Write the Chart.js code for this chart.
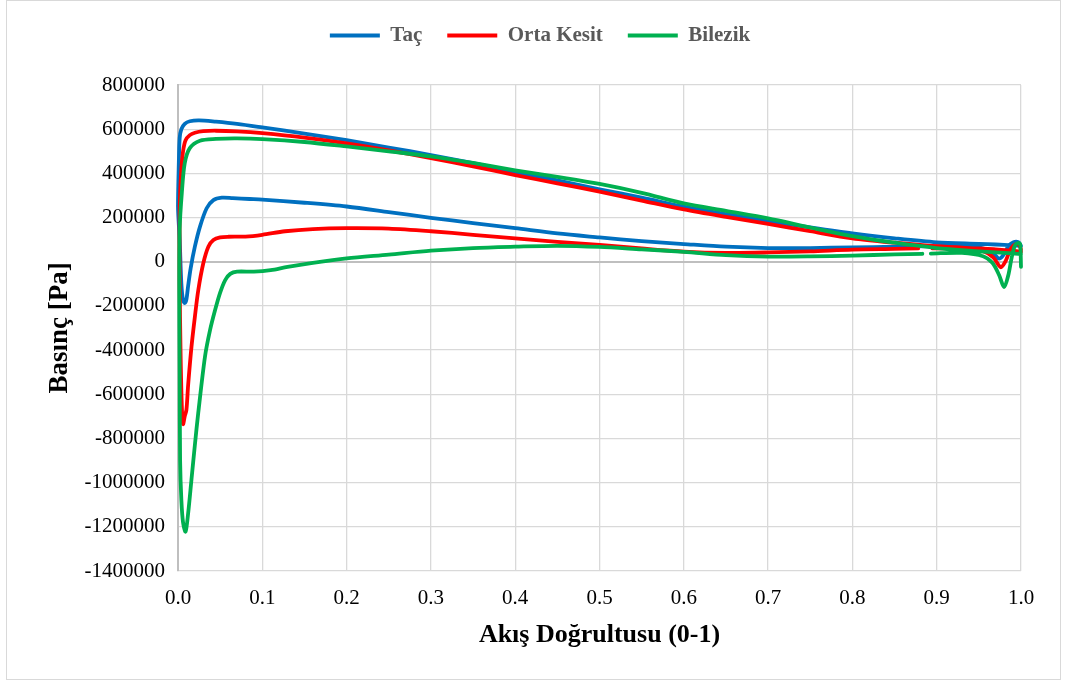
<!DOCTYPE html>
<html>
<head>
<meta charset="utf-8">
<script src="https://cdn.jsdelivr.net/npm/chart.js@4.4.1/dist/chart.umd.min.js"></script>
<style>
  html, body { margin: 0; padding: 0; background: #ffffff; }
  #wrap { position: relative; width: 1066px; height: 684px; }
  #frame { position: absolute; left: 6px; top: 0; width: 1053px; height: 678px;
           border: 1px solid #d9d9d9; pointer-events: none; }
  canvas { display: block; }
</style>
</head>
<body>
<div id="wrap">
  <canvas id="chart" width="1066" height="684"></canvas>
  <div id="frame"></div>
</div>
<script>
// Pressure distribution along the flow direction (0 = leading edge, 1 = trailing edge).
// Each profile is a closed loop: upper branch from trailing edge to leading edge,
// then lower branch back to the trailing edge. null marks a break in the line.

const seriesNames = ['Taç', 'Orta Kesit', 'Bilezik'];

const tacX = [
  1.000, 0.990, 0.970, 0.950, 0.900, 0.850, 0.800, 0.750, 0.700, 0.650,
  0.600, 0.550, 0.500, 0.450, 0.400, 0.350, 0.300, 0.250, 0.200, 0.150,
  0.100, 0.070, 0.045, 0.025, 0.014, 0.008, 0.004, 0.002, 0.001, 0.000,
  0.002, 0.004, 0.006, 0.008, 0.010, 0.012, 0.015, 0.020, 0.026, 0.034,
  0.042, 0.052, 0.065, 0.085, 0.100, 0.150, 0.200, 0.250, 0.300, 0.350,
  0.400, 0.450, 0.500, 0.550, 0.600, 0.650, 0.700, 0.750, 0.800, 0.850,
  0.900, 0.940, 0.960, 0.968, 0.974, 0.979, 0.985, 0.991, 0.997, 1.000
];
const tacY = [
  72000, 74000, 78000, 81000, 88000, 106000, 128000, 155000, 184000, 215000,
  249000, 290000, 328000, 368000, 406000, 446000, 483000, 517000, 550000, 580000,
  608000, 624000, 634000, 640000, 636000, 624000, 600000, 560000, 450000, 250000,
  100000, -100000, -175000, -187000, -170000, -110000, -30000, 68000, 158000, 242000,
  279000, 290000, 288000, 284000, 281000, 267000, 250000, 225000, 199000, 175000,
  152000, 128000, 110000, 93000, 80000, 68000, 62000, 62000, 65000, 68000,
  71000, 70000, 55000, 35000, 14000, 30000, 70000, 88000, 88000, 72000
];

const ortaX = [
  1.000, 0.990, 0.970, 0.950, 0.900, 0.850, 0.800, 0.750, 0.700, 0.650,
  0.600, 0.550, 0.500, 0.450, 0.400, 0.350, 0.300, 0.250, 0.200, 0.150,
  0.100, 0.070, 0.045, 0.030, 0.020, 0.014, 0.009, 0.006, 0.004, 0.002,
  0.002, 0.003, 0.0045, 0.006, 0.008, 0.010, 0.012, 0.016, 0.020, 0.024,
  0.030, 0.036, 0.042, 0.050, 0.060, 0.080, 0.100, 0.127, 0.160, 0.200,
  0.250, 0.300, 0.350, 0.400, 0.450, 0.500, 0.550, 0.600, 0.650, 0.700,
  0.750, 0.800, 0.850, 0.878, 0.886, 0.895, 0.930, 0.955, 0.967, 0.976,
  0.982, 0.988, 0.994, 0.998, 1.000
];
const ortaY = [
  45000, 50000, 56000, 60000, 70000, 86000, 106000, 138000, 171000, 203000,
  237000, 277000, 317000, 355000, 392000, 432000, 469000, 504000, 536000, 562000,
  582000, 590000, 593000, 591000, 584000, 573000, 550000, 500000, 420000, 250000,
  -100000, -400000, -650000, -735000, -700000, -670000, -560000, -385000, -250000, -130000,
  -7000, 68000, 98000, 110000, 113000, 114000, 122000, 138000, 148000, 152000,
  150000, 138000, 122000, 106000, 90000, 76000, 60000, 46000, 40000, 42000,
  47000, 55000, 58000, 60000, null, 60000, 60000, 48000, 20000, -25000,
  5000, 60000, 80000, 75000, 55000
];

const bilezikX = [
  1.000, 0.990, 0.970, 0.950, 0.900, 0.850, 0.800, 0.750, 0.700, 0.650,
  0.600, 0.550, 0.500, 0.450, 0.400, 0.350, 0.300, 0.250, 0.200, 0.150,
  0.100, 0.070, 0.045, 0.026, 0.014, 0.008, 0.0045, 0.002,
  0.0015, 0.002, 0.0025, 0.004, 0.006, 0.009, 0.012, 0.016, 0.020, 0.024,
  0.032, 0.038, 0.044, 0.050, 0.056, 0.062, 0.070, 0.090, 0.110, 0.130,
  0.160, 0.200, 0.250, 0.300, 0.350, 0.400, 0.450, 0.500, 0.550, 0.600,
  0.650, 0.700, 0.750, 0.800, 0.850, 0.883, 0.888, 0.893, 0.930, 0.955,
  0.966, 0.974, 0.980, 0.985, 0.989, 0.993, 0.997, 0.999, 1.000
];
const bilezikY = [
  35000, 38000, 42000, 47000, 62000, 86000, 116000, 155000, 196000, 230000,
  264000, 312000, 352000, 384000, 414000, 447000, 477000, 500000, 522000, 542000,
  555000, 558000, 556000, 548000, 514000, 446000, 310000, 150000,
  -100000, -500000, -900000, -1080000, -1180000, -1222000, -1140000, -985000, -830000, -685000,
  -430000, -310000, -219000, -140000, -83000, -55000, -45000, -45000, -38000, -23000,
  -5000, 15000, 32000, 50000, 62000, 68000, 72000, 67000, 56000, 45000,
  30000, 23000, 24000, 28000, 33000, 36000, null, 37000, 40000, 25000,
  -5000, -60000, -115000, -60000, 20000, 75000, 85000, 80000, -23000
];

const xTicks = [0, 0.1, 0.2, 0.3, 0.4, 0.5, 0.6, 0.7, 0.8, 0.9, 1.0];
const yTicks = [-1400000, -1200000, -1000000, -800000, -600000, -400000, -200000,
                0, 200000, 400000, 600000, 800000];

const colors = ['#0070c0', '#ff0000', '#00b050'];
const FONT = "'Liberation Serif', 'Times New Roman', serif";

function toPoints(xs, ys) {
  return xs.map((x, i) => ({ x: x, y: ys[i] }));
}

const seriesData = [toPoints(tacX, tacY), toPoints(ortaX, ortaY), toPoints(bilezikX, bilezikY)];

// Fixed plot geometry: legend band on top, axis bands left and bottom.
const LEGEND_H = 85;
const Y_AXIS_W = 178;
const X_AXIS_H = 113;
const LEGEND_CENTER = 540;

const layoutTweaks = {
  id: 'layoutTweaks',
  beforeLayout(chart) {
    const lg = chart.legend;
    if (lg && !lg._fixedHeight) {
      const baseFit = Object.getPrototypeOf(lg).fit;
      lg.fit = function () {
        baseFit.call(this);
        this.height = LEGEND_H;
      };
      lg._fixedHeight = true;
    }
  },
  afterLayout(chart) {
    const lg = chart.legend;
    if (!lg) return;
    const shift = LEGEND_CENTER - (lg.left + lg.right) / 2;
    lg.left += shift;
    lg.right += shift;
  }
};

const datasets = seriesNames.map((name, i) => ({
  label: name,
  data: seriesData[i],
  borderColor: colors[i],
  backgroundColor: colors[i],
  borderWidth: 3.8,
  pointRadius: 0,
  pointHoverRadius: 0,
  showLine: true,
  fill: false,
  tension: 0.3,
  spanGaps: false,
  borderJoinStyle: 'round',
  borderCapStyle: 'round',
  clip: 8,
  order: seriesNames.length - i
}));

new Chart(document.getElementById('chart'), {
  type: 'scatter',
  data: { datasets: datasets },
  plugins: [layoutTweaks],
  options: {
    responsive: false,
    animation: false,
    devicePixelRatio: 1,
    layout: { padding: { left: 0, right: 45, top: 0, bottom: 0 } },
    plugins: {
      tooltip: { enabled: false },
      legend: {
        position: 'top',
        align: 'center',
        labels: {
          boxWidth: 50,
          boxHeight: 4,
          padding: 25,
          color: '#595959',
          font: { family: FONT, size: 21, weight: 'bold' },
          sort: (a, b) => a.datasetIndex - b.datasetIndex,
          generateLabels(chart) {
            const items = Chart.defaults.plugins.legend.labels.generateLabels(chart);
            items.forEach(it => { it.lineWidth = 0; });
            return items;
          }
        }
      }
    },
    scales: {
      x: {
        type: 'linear',
        min: xTicks[0],
        max: xTicks[xTicks.length - 1],
        afterFit(scale) { scale.height = X_AXIS_H; },
        afterBuildTicks(scale) { scale.ticks = xTicks.map(v => ({ value: v })); },
        ticks: {
          padding: 15,
          color: '#000000',
          font: { family: FONT, size: 21 },
          callback: v => Number(v).toFixed(1)
        },
        grid: {
          drawTicks: false,
          color: ctx => (ctx.tick && ctx.tick.value === 0 ? '#bfbfbf' : '#d9d9d9'),
          lineWidth: ctx => (ctx.tick && ctx.tick.value === 0 ? 2 : 1.3)
        },
        border: { display: false },
        title: {
          display: true,
          text: 'Akış Doğrultusu (0-1)',
          color: '#000000',
          font: { family: FONT, size: 26, weight: 'bold' },
          padding: { top: 0, bottom: 33 }
        }
      },
      y: {
        type: 'linear',
        min: yTicks[0],
        max: yTicks[yTicks.length - 1],
        afterFit(scale) { scale.width = Y_AXIS_W; },
        afterBuildTicks(scale) { scale.ticks = yTicks.map(v => ({ value: v })); },
        ticks: {
          padding: 13,
          color: '#000000',
          font: { family: FONT, size: 21 },
          callback: v => String(v)
        },
        grid: {
          drawTicks: false,
          color: ctx => (ctx.tick && ctx.tick.value === 0 ? '#bfbfbf' : '#d9d9d9'),
          lineWidth: ctx => (ctx.tick && ctx.tick.value === 0 ? 2 : 1.3)
        },
        border: { display: true, color: '#bfbfbf', width: 2 },
        title: {
          display: true,
          text: 'Basınç [Pa]',
          color: '#000000',
          font: { family: FONT, size: 27, weight: 'bold' },
          padding: { top: 44, bottom: 0 }
        }
      }
    }
  }
});
</script>
</body>
</html>
